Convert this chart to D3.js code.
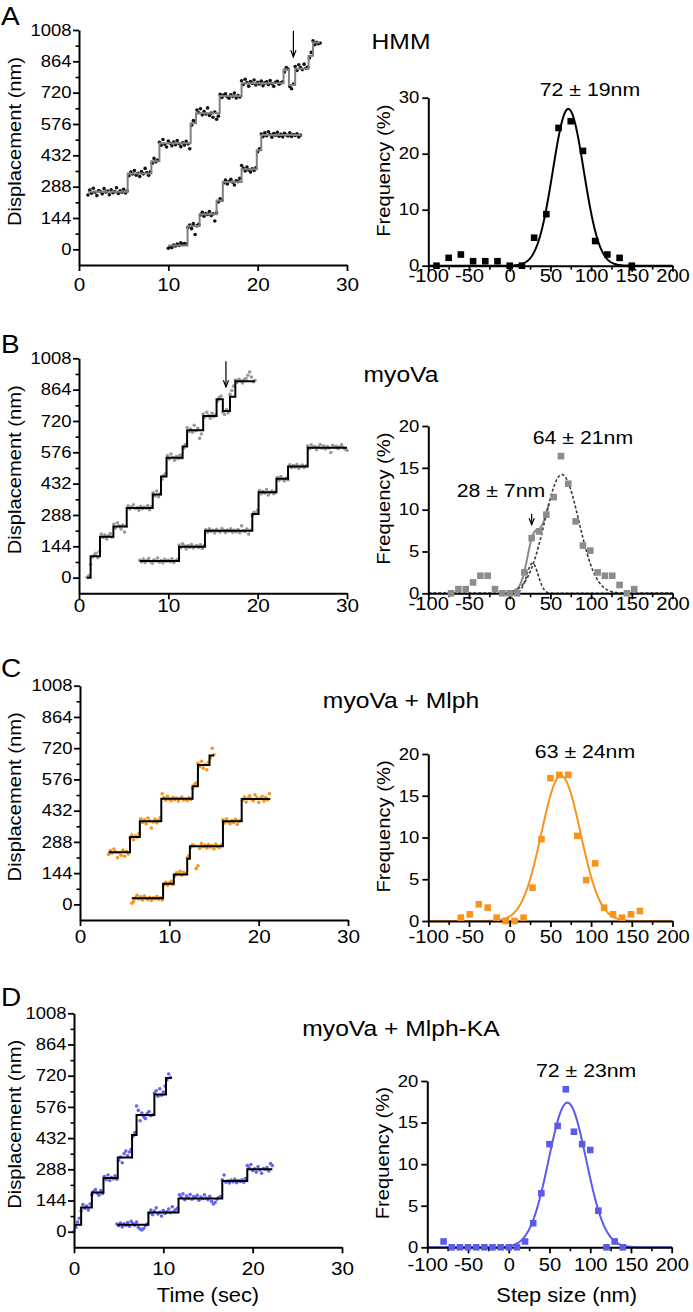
<!DOCTYPE html>
<html><head><meta charset="utf-8">
<script src="https://cdn.jsdelivr.net/npm/d3@7"></script>
<style>
body{margin:0;background:#fff}
svg text{font-family:"Liberation Sans",Arial,Helvetica,sans-serif;fill:#000}
</style></head><body>
<svg id="fig" width="693" height="1312"></svg>
<script>
// ---------------- DATA ----------------
const timeTicks = [0, 10, 20, 30];
const dispTicks = [0, 144, 288, 432, 576, 720, 864, 1008];
const dispMinor = [72, 216, 360, 504, 648, 792, 936];
const stepTicks = [-100, -50, 0, 50, 100, 150, 200];
const stepMinor = [-75, -25, 25, 75, 125, 175];
const freqTicksA = [0, 10, 20, 30];
const freqTicksBCD = [0, 5, 10, 15, 20];

const panelLetters = ["A", "B", "C", "D"];
const panelTitles = ["HMM", "myoVa", "myoVa + Mlph", "myoVa + Mlph-KA"];

// Traces: sampling every 0.2 s from t0; y in nm. Steps: [time, level]
const A1_t0 = 1.0, A1_y = [
 250,272,258,281,262,247,270,266,255,279,263,268,251,274,260,266,283,257,269,262,276,259,268,
 338,355,346,362,341,350,335,358,347,372,353,340,356,
 396,418,402,410,
 492,478,505,483,470,498,487,476,493,481,500,485,472,490,479,496,484,462,
 570,592,585,
 640,628,646,618,633,622,650,615,626,607,631,598,612,
 712,698,709,715,701,694,710,703,718,696,707,700,
 775,758,782,766,750,771,762,778,755,768,760,773,752,765,770,757,776,761,749,768,772,759,765,770,
 815,835,828,
 748,738,760,
 840,822,848,835,826,851,832,838,
 880,905,
 958,940,952,945,948];
const A1_steps = [[1.0,265],[5.45,349],[8.1,405],[9.0,487],[12.5,580],[13.1,625],[15.75,705],[18.2,763],[22.9,827],[23.5,755],[24.2,830],[25.7,890],[26.2,950],[27.0,950]];

const A2_t0 = 10.0, A2_y = [
 5,12,8,20,15,24,18,30,22,27,25,
 100,112,95,118,68,108,115,
 158,170,152,165,160,174,155,163,130,168,
 218,232,226,
 305,318,300,312,322,308,296,315,311,326,
 385,372,360,378,365,355,370,362,375,
 448,462,
 530,518,535,522,540,527,515,532,524,538,520,529,517,533,526,521,536,519,528,523,531,516,525];
const A2_steps = [[10.0,18],[12.15,107],[13.5,161],[15.4,225],[16.1,310],[18.2,368],[19.9,455],[20.4,525],[24.9,525]];

const B1_t0 = 0.9, B1_y = [
 2,8,
 60,95,104,112,92,120,
 200,185,196,178,192,203,186,
 245,228,252,238,224,242,210,236,
 330,315,326,335,318,322,310,328,316,324,319,331,312,325,
 390,375,398,372,385,
 452,470,478,
 560,545,568,552,540,556,548,563,550,
 595,612,
 690,672,683,668,700,675,686,640,660,
 752,738,760,745,733,755,740,748,
 812,828,835,
 760,750,772,758,
 842,860,880,
 908,898,912,905,895,910,915,930,945,922,900,906];
const B1_steps = [[0.9,0],[1.3,98],[2.35,188],[3.85,235],[5.34,320],[8.25,382],[9.18,465],[9.8,551],[11.6,603],[12.1,677],[13.9,743],[15.4,820],[16.1,766],[16.9,831],[17.5,903],[19.7,903]];

const B2_t0 = 6.8, B2_y = [
 80,72,85,70,78,88,74,66,82,76,90,71,79,68,84,75,81,73,87,69,77,83,
 150,138,155,145,132,148,140,152,136,144,147,139,151,134,146,
 220,208,225,212,218,205,222,214,210,226,216,207,219,213,224,209,217,211,221,206,238,215,212,223,200,218,
 285,300,296,310,
 400,385,396,388,405,380,392,398,386,394,
 460,448,465,452,444,458,450,
 518,505,515,508,520,502,512,517,506,514,
 605,592,610,598,603,588,600,612,595,606,591,602,596,575,608,599,604,593,601,610,597,590,585];
const B2_steps = [[6.8,77],[11.2,142],[14.1,215],[19.4,292],[20.1,392],[22.1,454],[23.4,511],[25.6,597],[30.0,597]];

const C1_t0 = 3.2, C1_y = [
 230,248,236,255,242,215,238,226,250,222,244,232,
 305,320,298,315,310,325,
 395,378,390,372,398,385,352,380,392,376,388,400,
 510,492,480,498,485,478,493,482,490,476,488,495,481,486,479,491,484,
 535,552,560,
 650,635,660,628,645,620,655,
 675,720,690];
const C1_steps = [[3.2,240],[5.6,311],[6.7,383],[9.1,487],[12.6,544],[13.2,642],[14.5,686],[15.0,686]];

const C2_t0 = 5.8, C2_y = [
 5,15,30,42,25,35,20,38,28,22,33,18,30,26,36,24,31,20,
 90,102,88,98,106,92,
 130,145,140,152,135,148,142,
 215,225,
 262,275,270,165,178,258,280,266,272,260,276,264,270,256,278,268,262,274,
 390,375,395,380,372,386,378,392,368,384,388,
 480,495,472,490,500,485,478,505,492,470,488,498,476,494,482,510];
const C2_steps = [[5.8,28],[9.3,95],[10.5,138],[12.0,210],[12.3,268],[16.0,383],[18.1,486],[21.3,486]];

const D1_t0 = 0.0, D1_y = [
 0,20,45,62,
 95,125,108,118,100,128,
 170,185,195,178,168,190,176,
 255,240,262,236,250,244,258,242,
 330,345,318,360,372,350,368,380,
 440,458,
 580,560,512,548,530,522,545,555,535,540,
 640,650,625,660,630,645,672,
 700,728,712];
const D1_steps = [[0.0,32],[0.8,112],[2.0,181],[3.3,248],[4.9,342],[6.5,446],[7.0,539],[9.0,633],[10.3,709],[10.95,709]];

const D2_t0 = 4.8, D2_y = [
 35,28,40,22,36,30,42,25,48,38,30,44,20,12,8,15,28,35,
 85,100,78,95,110,82,90,72,98,84,92,105,88,115,95,102,108,
 170,160,175,148,165,155,172,150,162,158,168,145,160,152,170,155,148,163,140,128,135,150,158,162,
 240,262,228,235,225,238,230,242,226,236,232,240,228,245,
 305,295,310,282,290,275,300,285,270,292,288,296,280,315,305];
const D2_steps = [[4.86,32],[8.33,89],[11.7,153],[16.6,234],[19.4,288],[22.2,288]];

const sampleDt = 0.2;

// Step-size histograms (bin centre nm, frequency %)
const histA_x = [-90,-75,-60,-45,-30,-15,0,15,30,45,60,75,90,105,120,135,150];
const histA_y = [0,1.4,2.0,0.8,0.8,0.8,0,0,5.0,9.2,24.6,25.8,20.5,4.4,2.0,1.4,0];
const histB_x = [-72,-63,-54,-45,-36,-27,-18,-9,0,9,18,27,36,45,54,63,72,81,90,99,108,117,126,135,144,153];
const histB_y = [0,0.5,0.5,1.3,2.1,2.1,0.5,0,0,0,2.5,6.6,7.4,9.4,11.5,16.4,13.1,8.6,5.7,5.1,2.5,2.1,2.1,1.0,0,0.5];
const histC_x = [-60,-49,-38,-27,-16,-5,6,17,28,39,50,61,72,83,94,105,116,127,138,149,160];
const histC_y = [0.4,0.8,2.0,1.6,0.4,0,0,0.4,4.0,9.8,17.1,17.5,17.5,10.2,4.9,6.9,1.6,0.8,0.4,0.8,1.2];
const histD_x = [-80,-70,-60,-50,-40,-30,-20,-10,0,10,20,30,40,50,60,70,80,90,100,110,120,130,140];
const histD_y = [0.7,0,0,0,0,0,0,0,0,0,0.7,2.9,6.5,12.4,14.6,19.0,13.9,12.4,11.7,4.4,0,0.7,0];

// Gaussian fits (mean, sd, amplitude %)
const fitA = {mu:72, sd:19, amp:28};
const fitB1 = {mu:64, sd:21, amp:14.2};
const fitB2 = {mu:28, sd:7, amp:3.6};
const fitC = {mu:63, sd:24, amp:17.4};
const fitD = {mu:72, sd:23, amp:17.4};
const fitLabels = ["72 ± 19nm", "64 ± 21nm", "63 ± 24nm", "72 ± 23nm"];
const fitLabelB2 = "28 ± 7nm";

// ---------------- LAYOUT ----------------
const S = 1.12; // glyph widening
const FONT = '"Liberation Sans",Arial,Helvetica,sans-serif';
const plainFmt = d => String(d);
const L = [
 {x0:79, x1:347, yT:30,    yB:265,    xlab:13.3},
 {x0:79, x1:347, yT:358.3, yB:593.3,  xlab:6},
 {x0:80, x1:348, yT:685.7, yB:920,    xlab:10},
 {x0:74, x1:342, yT:1013.3,yB:1247.3, xlab:14.4}
];
const R = [
 {x0:428.3, x1:672.5, yT:97.7, yB:265.7,  xlab:3.5, max:30},
 {x0:428.3, x1:672.5, yT:426,  yB:593.3,  xlab:4,   max:20},
 {x0:428.3, x1:672.5, yT:754,  yB:921,    xlab:9,   max:20},
 {x0:427.3, x1:671.7, yT:1081, yB:1247.3, xlab:11,  max:20}
];
const titleBase = [49, 381.7, 708, 1036];
const letterBase = [25, 353, 677, 1006];

const svg = d3.select("#fig");

function stretchX(sel){
  sel.each(function(){
    const t = d3.select(this);
    const x = +t.attr("x") || 0;
    t.attr("transform", `translate(${x},0) scale(${S},1) translate(${-x},0)`);
  });
}
function styleAxis(g, fs){
  g.attr("font-family", FONT).attr("font-size", fs);
  g.select(".domain").attr("stroke", "#000").attr("stroke-width", 2);
  g.selectAll(".tick line").attr("stroke", "#000").attr("stroke-width", 1.8);
  g.selectAll(".tick text").attr("fill", "#000");
}
function text(x, y, str, fs, anchor){
  const t = svg.append("text").attr("x", x).attr("y", y).attr("font-size", fs)
    .attr("text-anchor", anchor || "start").text(str);
  stretchX(t);
  return t;
}
function arrow(x, y0, y1){
  svg.append("line").attr("x1", x).attr("x2", x).attr("y1", y0).attr("y2", y1)
    .attr("stroke", "#000").attr("stroke-width", 1.2);
  svg.append("path").attr("d", `M${x-2.6},${y1-6.5}L${x},${y1}L${x+2.6},${y1-6.5}`)
    .attr("fill", "none").attr("stroke", "#000").attr("stroke-width", 1.2);
}

const traces = [
  [{t0:A1_t0, y:A1_y, steps:A1_steps}, {t0:A2_t0, y:A2_y, steps:A2_steps}],
  [{t0:B1_t0, y:B1_y, steps:B1_steps}, {t0:B2_t0, y:B2_y, steps:B2_steps}],
  [{t0:C1_t0, y:C1_y, steps:C1_steps}, {t0:C2_t0, y:C2_y, steps:C2_steps}],
  [{t0:D1_t0, y:D1_y, steps:D1_steps}, {t0:D2_t0, y:D2_y, steps:D2_steps}]
];
const dotColor = ["#111", "#9a9a9a", "#f7941d", "#6565ee"];
const stepColor = ["#808080", "#000", "#000", "#000"];
const hists = [[histA_x, histA_y], [histB_x, histB_y], [histC_x, histC_y], [histD_x, histD_y]];
const histColor = ["#000", "#8c8c8c", "#f7941d", "#5b5bea"];
const fits = [fitA, fitB1, fitC, fitD];
const gauss = (f, x) => f.amp * Math.exp(-((x - f.mu) ** 2) / (2 * f.sd * f.sd));
const labelPos = [[98.6, 30.3], [90, 17.85], [92.5, 19.5], [95, 20.5]];

for (let i = 0; i < 4; i++) {
  // ---------- left: displacement traces ----------
  const p = L[i];
  const x = d3.scaleLinear().domain([0, 30]).range([p.x0, p.x1]);
  const y = d3.scaleLinear().domain([-72, 1008]).range([p.yB, p.yT]);

  traces[i].forEach(tr => {
    const pts = tr.y.map((v, k) => [tr.t0 + k * sampleDt, v]);
    svg.append("g").selectAll("circle").data(pts).join("circle")
      .attr("cx", d => x(d[0])).attr("cy", d => y(d[1])).attr("r", 1.8)
      .attr("fill", dotColor[i]);
  });
  traces[i].forEach(tr => {
    svg.append("path").datum(tr.steps)
      .attr("d", d3.line().x(d => x(d[0])).y(d => y(d[1])).curve(d3.curveStepAfter))
      .attr("fill", "none").attr("stroke", stepColor[i]).attr("stroke-width", 2);
  });

  const gyMinor = svg.append("g").attr("transform", `translate(${p.x0},0)`)
    .call(d3.axisLeft(y).tickValues(dispMinor).tickSize(3.5).tickFormat("").tickSizeOuter(0));
  gyMinor.select(".domain").remove();
  gyMinor.selectAll(".tick line").attr("stroke", "#000").attr("stroke-width", 1.6);
  const gy = svg.append("g").attr("transform", `translate(${p.x0},0)`)
    .call(d3.axisLeft(y).tickValues(dispTicks).tickFormat(plainFmt).tickSize(6).tickPadding(1.5).tickSizeOuter(0));
  styleAxis(gy, 16.5);
  stretchX(gy.selectAll(".tick text"));

  const gx = svg.append("g").attr("transform", `translate(0,${p.yB})`)
    .call(d3.axisBottom(x).tickValues(timeTicks).tickFormat(plainFmt).tickSize(6).tickSizeOuter(0));
  styleAxis(gx, 18.5);
  gx.selectAll(".tick text").attr("y", p.xlab);
  stretchX(gx.selectAll(".tick text"));

  svg.append("text").attr("font-size", 18).attr("text-anchor", "middle")
    .attr("transform", `translate(20.5,${(p.yT + p.yB) / 2 - 6}) rotate(-90) scale(${S},1)`)
    .text("Displacement (nm)");

  // ---------- right: step-size histograms ----------
  const r = R[i];
  const hx = d3.scaleLinear().domain([-100, 200]).range([r.x0, r.x1]);
  const hy = d3.scaleLinear().domain([0, r.max]).range([r.yB, r.yT]);
  const xs = d3.range(-100, 200.5, 0.5);
  const line = d3.line().x(d => hx(d[0])).y(d => hy(d[1]));

  if (i === 1) {
    const sumXs = d3.range(0, 48.5, 0.5);
    svg.append("path").datum(sumXs.map(v => [v, gauss(fitB1, v) + gauss(fitB2, v)]))
      .attr("d", line).attr("fill", "none").attr("stroke", "#8a8a8a").attr("stroke-width", 2);
    [fitB1, fitB2].forEach(f => {
      svg.append("path").datum(xs.map(v => [v, gauss(f, v)]))
        .attr("d", line).attr("fill", "none").attr("stroke", "#3a3a3a")
        .attr("stroke-width", 1.6).attr("stroke-dasharray", "3,2");
    });
  } else {
    svg.append("path").datum(xs.map(v => [v, gauss(fits[i], v)]))
      .attr("d", line).attr("fill", "none").attr("stroke", histColor[i]).attr("stroke-width", 2);
  }

  const hyTicks = i === 0 ? freqTicksA : freqTicksBCD;
  const ghy = svg.append("g").attr("transform", `translate(${r.x0},0)`)
    .call(d3.axisLeft(hy).tickValues(hyTicks).tickFormat(plainFmt).tickSize(6).tickPadding(3).tickSizeOuter(0));
  styleAxis(ghy, 16.5);
  stretchX(ghy.selectAll(".tick text"));

  const ghxMinor = svg.append("g").attr("transform", `translate(0,${r.yB})`)
    .call(d3.axisBottom(hx).tickValues(stepMinor).tickSize(4).tickFormat("").tickSizeOuter(0));
  ghxMinor.select(".domain").remove();
  ghxMinor.selectAll(".tick line").attr("stroke", "#000").attr("stroke-width", 1.6);
  const ghx = svg.append("g").attr("transform", `translate(0,${r.yB})`)
    .call(d3.axisBottom(hx).tickValues(stepTicks).tickFormat(plainFmt).tickSize(6).tickSizeOuter(0));
  styleAxis(ghx, 18);
  ghx.selectAll(".tick text").attr("y", r.xlab);
  stretchX(ghx.selectAll(".tick text"));

  const [bx, by] = hists[i];
  svg.append("g").selectAll("rect").data(bx.map((v, k) => [v, by[k]])).join("rect")
    .attr("x", d => hx(d[0]) - 3.3).attr("y", d => hy(d[1]) - 3.3)
    .attr("width", 6.6).attr("height", 6.6).attr("fill", histColor[i]);

  svg.append("text").attr("font-size", 18).attr("text-anchor", "middle")
    .attr("transform", `translate(${r.x0 - 38.5},${(r.yT + r.yB) / 2 - 11}) rotate(-90) scale(${S},1)`)
    .text("Frequency (%)");

  text(hx(labelPos[i][0]), hy(labelPos[i][1]), fitLabels[i], 19, "middle");
  if (i === 1) {
    text(hx(-10.7), hy(11.55), fitLabelB2, 19, "middle");
    arrow(hx(27), hy(9.5), hy(8.2));
  }

  // panel letter and title
  text(1, letterBase[i], panelLetters[i], 25, "start");
  text(401, titleBase[i], panelTitles[i], 22, "middle");

  if (i === 0) arrow(x(24.0), y(1005), y(885));
  if (i === 1) arrow(x(16.45), y(995), y(877));
  if (i === 3) {
    text((p.x0 + p.x1) / 2, 1301.7, "Time (sec)", 19.5, "middle");
    text(r.x0 + 139.4, 1301.7, "Step size (nm)", 19.5, "middle");
  }
}
</script>
</body></html>
